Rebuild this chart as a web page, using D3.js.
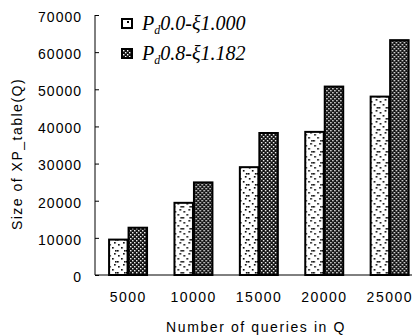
<!DOCTYPE html>
<html>
<head>
<meta charset="utf-8">
<script src="https://cdn.jsdelivr.net/npm/d3@7"></script>
<style>
  body { margin: 0; background: #fff; }
  svg { display: block; }
  .axis text { font-family: "Liberation Sans", Arial, sans-serif; font-size: 14px; fill: #000; }
</style>
</head>
<body>
<div id="chart"></div>
<script>
// query counts on the x axis
var categories = ["5000", "10000", "15000", "20000", "25000"];
// XP_table sizes
var seriesNames = ["P0.0", "P0.8"];
var pd00 = [9800, 19700, 29300, 38800, 48300];
var pd08 = [13000, 25200, 38500, 51000, 63500];
var yTicks = [0, 10000, 20000, 30000, 40000, 50000, 60000, 70000];
var legendLabels = [
    {sub: "d", rest: "0.0-\u03be1.000"},
    {sub: "d", rest: "0.8-\u03be1.182"}
];

var width = 418,
    height = 336;

var svg = d3.select("#chart")
    .append("svg")
    .attr("width", width)
    .attr("height", height);

var defs = svg.append("defs");

// sparse dots for the first series
var dots = defs.append("pattern")
    .attr("id", "dots")
    .attr("patternUnits", "userSpaceOnUse")
    .attr("width", 9)
    .attr("height", 11);
dots.append("rect").attr("width", 9).attr("height", 11).attr("fill", "#fff");
[[1, 2], [6, 0], [4, 5], [0, 8], [7, 8]].forEach(function (p) {
    dots.append("rect")
        .attr("x", p[0]).attr("y", p[1])
        .attr("width", 1.6).attr("height", 1.6)
        .attr("fill", "#000");
});

// dense dither for the second series
var dense = defs.append("pattern")
    .attr("id", "dense")
    .attr("patternUnits", "userSpaceOnUse")
    .attr("width", 4)
    .attr("height", 4);
dense.append("rect").attr("width", 4).attr("height", 4).attr("fill", "#111");
dense.append("rect").attr("x", 0).attr("y", 0).attr("width", 1.4).attr("height", 1.4).attr("fill", "#fff");
dense.append("rect").attr("x", 2).attr("y", 2).attr("width", 1.4).attr("height", 1.4).attr("fill", "#fff");

var fills = ["url(#dots)", "url(#dense)"];

var plotLeft = 95, plotBottom = 275, plotTop = 15, axisEnd = 412;

var x0 = d3.scaleBand()
    .domain(categories)
    .range([plotLeft, 421.7])
    .paddingInner(0.404)
    .paddingOuter(0.2);

var x1 = d3.scaleBand()
    .domain(seriesNames)
    .range([0, x0.bandwidth()]);

var y = d3.scaleLinear()
    .domain([0, 70000])
    .range([plotBottom, plotTop]);

// y axis, ticks point inward
var yAxis = svg.append("g")
    .attr("class", "axis")
    .attr("transform", "translate(" + plotLeft + ",0)")
    .call(d3.axisLeft(y).tickValues(yTicks).tickSize(-4).tickPadding(13).tickFormat(d3.format("d")));
yAxis.select(".domain").remove();
yAxis.selectAll("text").attr("dy", "0.45em").style("letter-spacing", "1px");
yAxis.append("line")
    .attr("x1", 0).attr("x2", 0)
    .attr("y1", plotTop).attr("y2", plotBottom)
    .attr("stroke", "#000");

// x axis
var xAxis = svg.append("g")
    .attr("class", "axis")
    .attr("transform", "translate(0," + plotBottom + ")")
    .call(d3.axisBottom(x0).tickSize(0).tickPadding(17));
xAxis.select(".domain").remove();
xAxis.selectAll("text").style("letter-spacing", "1.5px").attr("dx", "0.05em");
xAxis.append("line")
    .attr("x1", plotLeft).attr("x2", axisEnd)
    .attr("y1", 0).attr("y2", 0)
    .attr("stroke", "#000");

// bars
var rows = categories.map(function (c, i) {
    return {cat: c, values: [pd00[i], pd08[i]]};
});

var groups = svg.append("g")
    .selectAll("g")
    .data(rows)
    .enter()
    .append("g")
    .attr("transform", function (d) { return "translate(" + x0(d.cat) + ",0)"; });

groups.selectAll("rect")
    .data(function (d) {
        return d.values.map(function (v, j) { return {key: seriesNames[j], value: v, idx: j}; });
    })
    .enter()
    .append("rect")
    .attr("x", function (d) { return x1(d.key) + 1; })
    .attr("y", function (d) { return y(d.value) + 1; })
    .attr("width", x1.bandwidth() - 1)
    .attr("height", function (d) { return plotBottom - y(d.value) - 1; })
    .attr("fill", function (d) { return fills[d.idx]; })
    .attr("stroke", "#000")
    .attr("stroke-width", 2);

// axis titles
svg.append("text")
    .attr("x", 256)
    .attr("y", 332)
    .attr("text-anchor", "middle")
    .style("font-family", "Liberation Sans, Arial, sans-serif")
    .style("font-size", "14px")
    .style("letter-spacing", "1.6px")
    .text("Number of queries in Q");

svg.append("text")
    .attr("transform", "translate(22,154) rotate(-90)")
    .attr("text-anchor", "middle")
    .style("font-family", "Liberation Sans, Arial, sans-serif")
    .style("font-size", "14px")
    .style("letter-spacing", "1.5px")
    .text("Size of XP_table(Q)");

// legend
var legend = svg.append("g")
    .selectAll("g")
    .data(legendLabels)
    .enter()
    .append("g")
    .attr("transform", function (d, i) { return "translate(121," + (18 + i * 30) + ")"; });

legend.append("rect")
    .attr("x", 1)
    .attr("y", 1)
    .attr("width", 10)
    .attr("height", 9)
    .attr("fill", function (d, i) { return i === 0 ? "#fff" : "url(#dense)"; })
    .attr("stroke", "#000")
    .attr("stroke-width", 2);

legend.filter(function (d, i) { return i === 0; })
    .append("rect")
    .attr("x", 6).attr("y", 3)
    .attr("width", 2).attr("height", 2)
    .attr("fill", "#000");

var lt = legend.append("text")
    .attr("x", 21)
    .attr("y", 12)
    .style("font-family", "Liberation Serif, Times New Roman, serif")
    .style("font-style", "italic")
    .style("font-size", "20px");
lt.append("tspan").text("P");
lt.append("tspan").attr("dy", 4).style("font-size", "12px").text(function (d) { return d.sub; });
lt.append("tspan").attr("dy", -4).text(function (d) { return d.rest; });
</script>
</body>
</html>
